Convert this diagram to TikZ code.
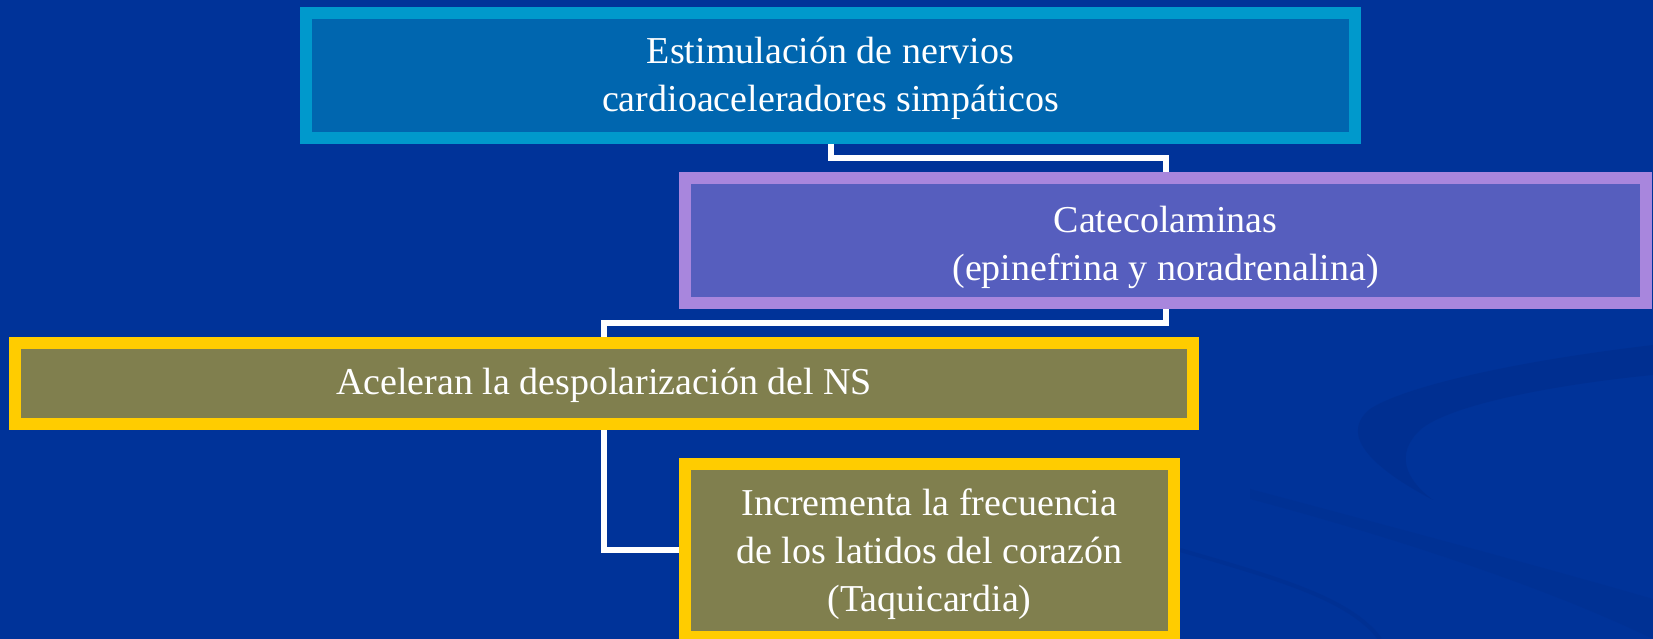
\documentclass[tikz,border=0pt]{standalone}
\usepackage{fontspec}
\setmainfont{Liberation Serif}
\usetikzlibrary{backgrounds}
\definecolor{bgblue}{HTML}{003399}
\definecolor{swoosh}{HTML}{002C88}
\definecolor{cyanborder}{HTML}{0099CC}
\definecolor{cyanfill}{HTML}{0066AF}
\definecolor{lilacborder}{HTML}{A886DD}
\definecolor{lilacfill}{HTML}{565EBE}
\definecolor{goldborder}{HTML}{FFCC00}
\definecolor{olivefill}{HTML}{807F4E}
\tikzset{
  box/.style={draw, line width=12pt, inner sep=0pt, outer sep=0pt},
  bluebox/.style={box, draw=cyanborder, fill=cyanfill},
  lilacbox/.style={box, draw=lilacborder, fill=lilacfill},
  goldbox/.style={box, draw=goldborder, fill=olivefill},
  boxtext/.style={inner sep=0pt, text=white, align=center,
    font=\fontsize{38}{48}\selectfont},
  link/.style={draw=white, line width=6pt, line join=miter}
}
\begin{document}
\begin{tikzpicture}[x=1pt,y=1pt]
\useasboundingbox (0,0) rectangle (1653,639);
\begin{scope}[on background layer]
  \fill[bgblue] (0,0) rectangle (1653,639);
  % faint background swooshes
  \fill[swoosh, opacity=0.45]
    (1653,294) .. controls (1500,276) and (1400,250) .. (1370,230)
    .. controls (1345,210) and (1355,180) .. (1433,139)
    .. controls (1405,160) and (1395,185) .. (1420,209)
    .. controls (1450,235) and (1560,255) .. (1653,264) -- cycle;
  \fill[swoosh, opacity=0.25]
    (1250,150) .. controls (1400,110) and (1550,70) .. (1653,40)
    -- (1653,0) .. controls (1550,50) and (1400,100) .. (1250,140) -- cycle;
  \draw[swoosh, opacity=0.35, line width=4pt]
    (1180,89) .. controls (1280,60) and (1350,40) .. (1380,0);
\end{scope}

\node[bluebox, minimum width=1049pt, minimum height=125pt] (b1) at (830.5,563.5) {};
\node[lilacbox, minimum width=961pt, minimum height=125pt] (b2) at (1165.5,398.5) {};
\node[goldbox, minimum width=1178pt, minimum height=81pt] (b3) at (604,255.5) {};
\node[goldbox, minimum width=489pt, minimum height=173pt] (b4) at (929.5,88.5) {};

\node[boxtext, yshift=-3pt] (t1) at (b1.center)
  {Estimulación de nervios\\cardioaceleradores simpáticos};
\node[boxtext, yshift=-7pt] (t2) at (b2.center)
  {Catecolaminas\\(epinefrina y noradrenalina)};
\node[boxtext, yshift=-2pt] (t3) at (b3.center)
  {Aceleran la despolarización del NS};
\node[boxtext, yshift=-4pt] (t4) at (b4.center)
  {Incrementa la frecuencia\\de los latidos del corazón\\(Taquicardia)};

\coordinate (k1) at (1000,481);
\coordinate (k2) at (900,316);

\begin{scope}[on background layer]
  \draw[link] (b1.south) |- (k1) -| (b2.north);
  \draw[link] (b2.south) |- (k2) -| (b3.north);
  \draw[link] (b3.south) |- (b4.west);
\end{scope}
\end{tikzpicture}
\end{document}
